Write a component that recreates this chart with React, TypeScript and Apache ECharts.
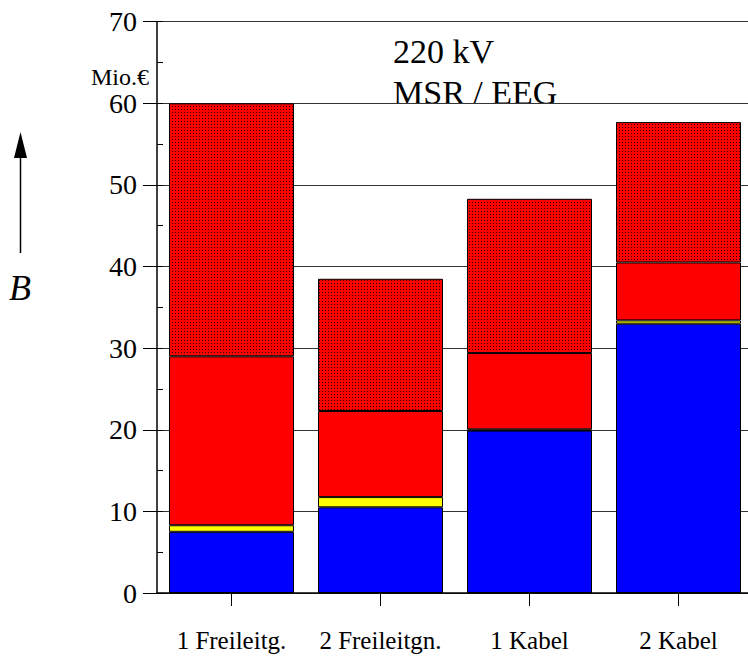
import React, { useEffect, useRef } from "react";
import * as echarts from "echarts";

const categories = ["1 Freileitg.", "2 Freileitgn.", "1 Kabel", "2 Kabel"];
const blueValues = [7.5, 10.5, 19.9, 33.0];
const yellowValues = [0.8, 1.25, 0.15, 0.4];
const redValues = [20.7, 10.55, 9.35, 7.1];
const dottedValues = [31.0, 16.2, 18.9, 17.2];
const yMin = 0;
const yMax = 70;
const yInterval = 10;

const SERIF = "'Liberation Serif', 'Times New Roman', Times, serif";

function makePattern() {
  const c = document.createElement("canvas");
  c.width = 3;
  c.height = 3;
  const ctx = c.getContext("2d")!;
  ctx.fillStyle = "#ff0000";
  ctx.fillRect(0, 0, 3, 3);
  ctx.fillStyle = "#300000";
  ctx.fillRect(1, 1, 1, 1);
  return { image: c, repeat: "repeat", imageWidth: 3, imageHeight: 3 } as any;
}

export default function App() {
  const ref = useRef<HTMLDivElement>(null);
  useEffect(() => {
    if (!ref.current) return;
    const chart = echarts.init(ref.current, null, { renderer: "svg" });
    const border = { borderColor: "#000", borderWidth: 1 };
    const bar = (name: string, data: number[], color: any) => ({
      name,
      type: "bar",
      stack: "total",
      data,
      barWidth: 125,
      yAxisIndex: 0,
      itemStyle: { color, ...border },
      emphasis: { disabled: true },
    });
    chart.setOption({
      animation: false,
      grid: { left: 157, top: 21.7, width: 596, height: 571.3, containLabel: false },
      xAxis: {
        type: "category",
        data: categories,
        axisLine: { show: true, lineStyle: { color: "#000", width: 1.5 } },
        axisTick: { show: true, alignWithLabel: true, length: 13, lineStyle: { color: "#000" } },
        axisLabel: { interval: 0, fontSize: 25, color: "#000", fontFamily: SERIF, margin: 35 },
      },
      yAxis: [
        {
          type: "value",
          min: yMin,
          max: yMax,
          interval: yInterval,
          position: "left",
          axisLine: { show: true, lineStyle: { color: "#000", width: 1.5 } },
          axisTick: { show: true, length: 14, lineStyle: { color: "#000" } },
          axisLabel: { fontSize: 28, color: "#000", fontFamily: SERIF, margin: 20 },
          splitLine: { show: true, lineStyle: { color: "#333", width: 1.2 } },
        },
        {
          type: "value",
          min: yMin,
          max: yMax,
          interval: 5,
          position: "left",
          offset: 0,
          axisLine: { show: false },
          axisTick: { show: true, inside: true, length: 6, lineStyle: { color: "#000" } },
          axisLabel: { show: false },
          splitLine: { show: false },
        },
      ],
      series: [
        bar("blue", blueValues, "#0000ff"),
        bar("yellow", yellowValues, "#ffff00"),
        bar("red", redValues, "#ff0000"),
        bar("dotted", dottedValues, makePattern()),
      ],
      graphic: [
        {
          type: "line",
          shape: { x1: 20.5, y1: 253, x2: 20.5, y2: 156 },
          style: { stroke: "#000", lineWidth: 1.5 },
        },
        {
          type: "polygon",
          shape: { points: [[14, 158], [27, 158], [20.5, 132]] },
          style: { fill: "#000" },
        },
        {
          type: "text",
          left: 9,
          top: 270,
          style: { text: "B", font: `italic 36px ${SERIF}`, fill: "#000" },
        },
        {
          type: "text",
          x: 149,
          y: 77,
          style: { text: "Mio.€", font: `24px ${SERIF}`, fill: "#000", align: "right", verticalAlign: "middle" },
        },
        {
          type: "text",
          x: 393,
          y: 51.5,
          style: { text: "220 kV", font: `34px ${SERIF}`, fill: "#000", align: "left", verticalAlign: "middle" },
        },
        {
          type: "text",
          x: 393,
          y: 92.5,
          style: { text: "MSR / EEG", font: `34px ${SERIF}`, fill: "#000", align: "left", verticalAlign: "middle" },
        },
      ],
    });
    return () => chart.dispose();
  }, []);
  return (
    <div style={{ position: "fixed", left: 0, top: 0, width: 748, height: 657, overflow: "hidden", background: "#fff" }}>
      <div ref={ref} style={{ width: 800, height: 657 }} />
    </div>
  );
}
